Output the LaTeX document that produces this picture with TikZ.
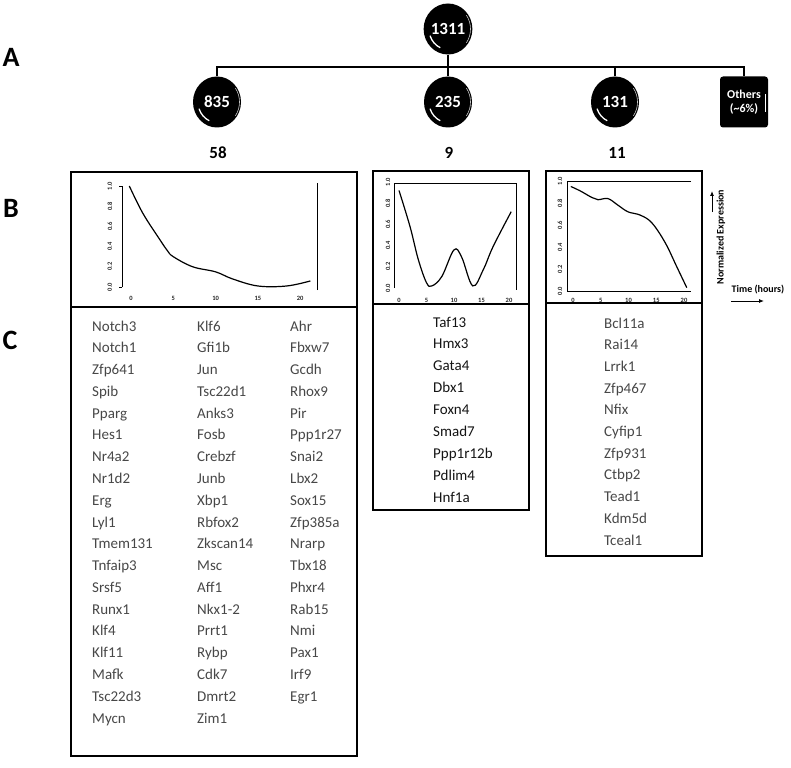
\documentclass[tikz,border=0pt]{standalone}
\usepackage{fontspec}
\setmainfont{Carlito}
\usepackage{xcolor}
\usepackage{tikz}
\usetikzlibrary{shapes.geometric, arrows.meta, positioning, calc}
\definecolor{genegray}{gray}{0.28}
\definecolor{genedark}{gray}{0.08}
\tikzset{
  clusterball/.style={
    ellipse, fill=black, text=white, inner sep=0pt,
    minimum width=48pt, minimum height=51pt,
    font=\bfseries\fontsize{17}{17}\selectfont
  },
  otherbox/.style={
    rectangle, rounded corners=3pt, fill=black, text=white, align=center,
    minimum width=48pt, minimum height=51pt, inner sep=0pt,
    font=\bfseries\fontsize{12}{14}\selectfont
  },
  countlabel/.style={
    font=\bfseries\fontsize{17}{17}\selectfont, inner sep=0pt
  },
  paneltag/.style={
    font=\bfseries\fontsize{28}{28}\selectfont, inner sep=0pt
  },
  panelbox/.style={
    draw, line width=1.8pt, rectangle
  },
  treeline/.style={line width=2.6pt, line join=miter},
  ballshine/.style={white, line width=1.3pt, line cap=round},
  genetext/.style={
    anchor=base west, inner sep=0pt, font=\fontsize{15}{18}\selectfont
  },
}

\begin{document}
\begin{tikzpicture}[
  x=1pt, y=1pt,
  axisline/.style={line width=0.9pt},
  plotcurve/.style={line width=1.2pt, black},
  ticklabel/.style={font=\bfseries\fontsize{6.5}{6.5}\selectfont, text=black!85, inner sep=0pt},
  axistitle/.style={font=\bfseries\fontsize{10}{10}\selectfont, inner sep=0pt},
  axisarrow/.style={-{Latex[length=5pt, width=4pt]}, line width=0.9pt},
]
  \useasboundingbox (0,0) rectangle (791,-767);

  % --- Panel letters ---
  \node[paneltag] (tagA) at (11,-57) {A};
  \node[paneltag] (tagB) at (11,-208) {B};
  \node[paneltag] (tagC) at (10,-340) {C};

  % --- Cluster tree ---
  \node[clusterball] (root) at (448,-29) {1311};
  \node[clusterball] (c835) at (217,-102) {835};
  \node[clusterball] (c235) at (448,-102) {235};
  \node[clusterball] (c131) at (615,-102) {131};
  \node[otherbox] (others) at (744,-102) {Others\\(\textasciitilde6\%)};
  \coordinate (bus) at (448,-67);

  \draw[treeline] (c835.north) -- (c835.north |- bus) -| (others.north);
  \draw[treeline] (root.south) -- (c235.north);
  \draw[treeline] (c131.north) -- (c131.north |- bus);

  \foreach \b in {root,c835,c235,c131}{
    \draw[ballshine] ([shift={(200:19 and 20.5)}]\b.center)
      arc[start angle=200, end angle=245, x radius=19, y radius=20.5];
    \draw[gray!45, line width=0.6pt] ([shift={(-35:22.5 and 24)}]\b.center)
      arc[start angle=-35, end angle=35, x radius=22.5, y radius=24];
  }
  \draw[white, line width=0.6pt] ([shift={(-3,-18)}]others.north east) -- ([shift={(-3,16)}]others.south east);

  \node[countlabel] (n58) at (218,-153) {58};
  \node[countlabel] (n9) at (449,-153) {9};
  \node[countlabel] (n11) at (617,-153) {11};

  % --- Panels ---
  \node[panelbox, minimum width=286pt, minimum height=135pt] (plotA) at (214,-239.5) {};
  \node[panelbox, minimum width=286pt, minimum height=449pt] (listA) at (214,-531.5) {};
  \node[panelbox, minimum width=156pt, minimum height=133pt] (plotB) at (451,-237.5) {};
  \node[panelbox, minimum width=156pt, minimum height=206pt] (listB) at (451,-407) {};
  \node[panelbox, minimum width=156pt, minimum height=132pt] (plotC) at (624,-237) {};
  \node[panelbox, minimum width=156pt, minimum height=253pt] (listC) at (624,-429.5) {};

  % --- Plot A ---
  \begin{scope}[shift={(131,-287)}, x=8.46pt, y=101pt]
    \draw[axisline] (-1.06,0) -- (-1.06,1);
    \draw[axisline] (-1.06,0) -- ++(-0.35,0) (-1.06,1) -- ++(-0.35,0);
    \draw[axisline] (22,-0.03) -- (22,1.03);
    \foreach \v in {0.0,0.2,0.4,0.6,0.8,1.0}
      \node[ticklabel, rotate=90] at (-2.5,\v) {\v};
    \foreach \t in {0,5,10,15,20}
      \node[ticklabel] at (\t,-0.11) {\t};
    \draw[plotcurve] plot[smooth, tension=0.6] coordinates {
      (-0.2,1.0) (1.4,0.73) (3.4,0.47) (4.3,0.36) (5,0.3) (7.3,0.2)
      (10,0.15) (12,0.08) (15,0.01) (18.4,0.01) (21.2,0.06)};
  \end{scope}

  % --- Plot B ---
  \begin{scope}[shift={(399,-288)}, x=5.5pt, y=106pt]
    \draw[axisline] (-0.91,0) -- (-0.91,0.99) -- (21.3,0.99) -- (21.3,-0.02);
    \foreach \v in {0.0,0.2,0.4,0.6,0.8,1.0}
      \node[ticklabel, rotate=90] at (-2.0,\v) {\v};
    \foreach \t in {0,5,10,15,20}
      \node[ticklabel] at (\t,-0.113) {\t};
    \draw[plotcurve] plot[smooth, tension=0.6] coordinates {
      (0,0.92) (2,0.58) (3.5,0.27) (5,0.05) (6,0.02) (7.8,0.11)
      (10,0.36) (11.4,0.29) (13.4,0.02) (15.3,0.17) (17.1,0.39) (20.4,0.72)};
  \end{scope}

  % --- Plot C ---
  \begin{scope}[shift={(573,-291)}, x=5.55pt, y=110pt]
    \draw[axisline] (21.3,1) -- (-1.08,1) -- (-1.08,0) -- (21.3,0);
    \foreach \v in {0.0,0.2,0.4,0.6,0.8,1.0}
      \node[ticklabel, rotate=90] at (-2.34,\v) {\v};
    \foreach \t in {0,5,10,15,20}
      \node[ticklabel] at (\t,-0.082) {\t};
    \draw[plotcurve] plot[smooth, tension=0.6] coordinates {
      (-0.4,0.95) (1.3,0.91) (3.4,0.85) (4.5,0.83) (6.3,0.84) (8.1,0.78)
      (9.9,0.72) (12.1,0.69) (14.2,0.62) (16.6,0.44) (18.7,0.22) (20.5,0.03)};
  \end{scope}

  % --- Axis legend ---
  \node[axistitle, rotate=90] (ylab) at (721,-237) {Normalized Expression};
  \coordinate (yarrowtail) at (712,-212);
  \coordinate (yarrowhead) at (712,-191);
  \draw[axisarrow] (yarrowtail) -- (yarrowhead);
  \node[axistitle] (xlab) at (758,-290) {Time (hours)};
  \coordinate (xarrowtail) at (731,-301);
  \coordinate (xarrowhead) at (764,-301);
  \draw[axisarrow] (xarrowtail) -- (xarrowhead);

  % --- Gene lists ---
  \foreach \g [count=\i from 0] in {Notch3,Notch1,Zfp641,Spib,Pparg,Hes1,Nr4a2,Nr1d2,Erg,Lyl1,
      Tmem131,Tnfaip3,Srsf5,Runx1,Klf4,Klf11,Mafk,Tsc22d3,Mycn}
    \node[genetext, text=genegray] (ga\i) at (92,{-331-21.78*\i}) {\g};
  \foreach \g [count=\i from 0] in {Klf6,Gfi1b,Jun,Tsc22d1,Anks3,Fosb,Crebzf,Junb,Xbp1,Rbfox2,
      Zkscan14,Msc,Aff1,Nkx1-2,Prrt1,Rybp,Cdk7,Dmrt2,Zim1}
    \node[genetext, text=genegray] (gb\i) at (197,{-331-21.78*\i}) {\g};
  \foreach \g [count=\i from 0] in {Ahr,Fbxw7,Gcdh,Rhox9,Pir,Ppp1r27,Snai2,Lbx2,Sox15,Zfp385a,
      Nrarp,Tbx18,Phxr4,Rab15,Nmi,Pax1,Irf9,Egr1}
    \node[genetext, text=genegray] (gc\i) at (290,{-331-21.78*\i}) {\g};
  \foreach \g [count=\i from 0] in {Taf13,Hmx3,Gata4,Dbx1,Foxn4,Smad7,Ppp1r12b,Pdlim4,Hnf1a}
    \node[genetext, text=genedark] (gd\i) at (433,{-327-21.9*\i}) {\g};
  \foreach \g [count=\i from 0] in {Bcl11a,Rai14,Lrrk1,Zfp467,Nfix,Cyfip1,Zfp931,Ctbp2,Tead1,Kdm5d,Tceal1}
    \node[genetext, text=genegray] (ge\i) at (604,{-328-21.7*\i}) {\g};

\end{tikzpicture}
\end{document}
